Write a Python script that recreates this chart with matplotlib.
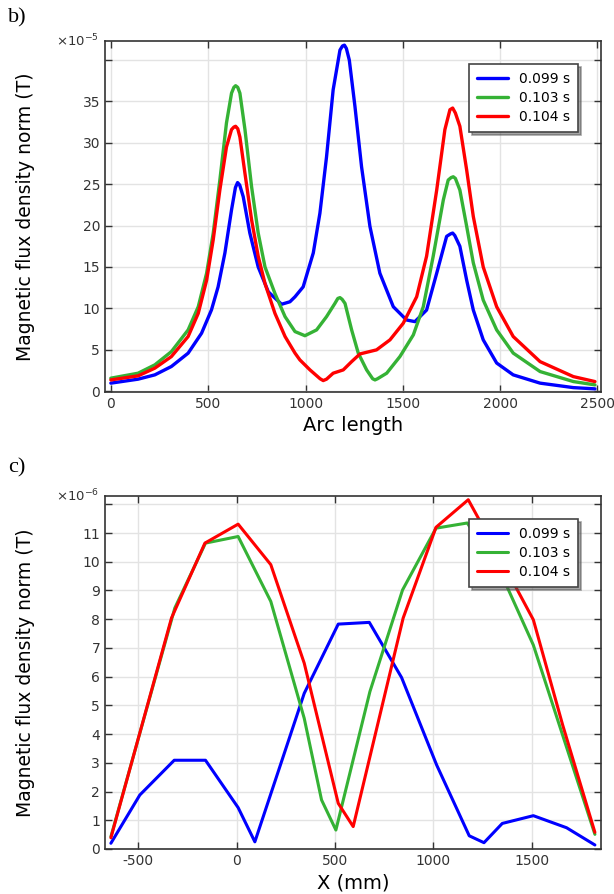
import numpy as np
import matplotlib
matplotlib.use('Agg')
import matplotlib.pyplot as plt

plt.rcParams['axes.unicode_minus'] = False

## ---- panel b: arc length (x1e-5 T) ----
arc_blue_x = [0, 140, 226, 311, 397, 466, 517, 551, 586, 620, 640, 651, 662, 680, 714, 757, 809, 877, 920, 946, 988,
              1040, 1074, 1108, 1142, 1177, 1190, 1200, 1210, 1225, 1254, 1288, 1331, 1382, 1451, 1519, 1562, 1622, 1674,
              1725, 1745, 1756, 1767, 1793, 1828, 1862, 1913, 1982, 2067, 2205, 2376, 2487]
arc_blue_y = [0.97, 1.45, 1.97, 2.98, 4.59, 7.0, 9.82, 12.6, 16.7, 21.9, 24.6, 25.2, 24.9, 23.5, 19.1, 15.0, 12.0, 10.5, 10.8, 11.4, 12.6,
              16.7, 21.5, 28.3, 36.4, 41.2, 41.7, 41.8, 41.4, 40.0, 34.4, 27.1, 19.9, 14.25, 10.2, 8.6, 8.4, 9.8, 14.25,
              18.7, 19.0, 19.1, 18.8, 17.5, 13.4, 9.8, 6.2, 3.4, 1.97, 0.97, 0.43, 0.28]

arc_green_x = [0, 140, 226, 311, 397, 449, 492, 526, 560, 594, 620, 632, 641, 652, 663, 689, 723, 757, 792, 843, 895, 946,
               997, 1057, 1108, 1151, 1166, 1177, 1188, 1203, 1237, 1271, 1314, 1345, 1357, 1370, 1417, 1485, 1554, 1605,
               1656, 1708, 1733, 1748, 1759, 1770, 1793, 1828, 1862, 1913, 1982, 2067, 2205, 2376, 2487]
arc_green_y = [1.57, 2.17, 3.18, 4.78, 7.4, 10.2, 14.25, 19.1, 25.5, 32.4, 36.0, 36.7, 36.9, 36.7, 36.0, 31.6, 24.7, 19.1, 15.0, 11.8, 9.0, 7.2,
               6.7, 7.4, 9.0, 10.6, 11.2, 11.3, 11.1, 10.6, 7.4, 4.6, 2.57, 1.5, 1.36, 1.5, 2.17, 4.18, 6.8, 10.2,
               16.3, 23.1, 25.5, 25.8, 25.9, 25.7, 24.3, 19.9, 15.5, 11.0, 7.4, 4.6, 2.37, 1.16, 0.76]

arc_red_x = [0, 140, 226, 311, 397, 449, 492, 526, 560, 594, 620, 632, 641, 652, 663, 689, 723, 757, 792, 843, 895, 946,
             971, 1023, 1075, 1091, 1108, 1142, 1194, 1237, 1280, 1365, 1434, 1502, 1571, 1622, 1674, 1716, 1742, 1756,
             1770, 1793, 1828, 1862, 1913, 1982, 2067, 2205, 2376, 2487]
arc_red_y = [1.36, 1.85, 2.78, 4.18, 6.6, 9.4, 13.4, 18.3, 24.3, 29.5, 31.6, 31.9, 32.0, 31.7, 30.7, 26.3, 20.7, 16.3, 13.0, 9.4, 6.6, 4.6,
             3.78, 2.57, 1.5, 1.28, 1.45, 2.17, 2.57, 3.57, 4.5, 4.99, 6.2, 8.2, 11.4, 16.3, 24.3, 31.6, 34.0, 34.2,
             33.6, 32.0, 26.7, 21.1, 15.0, 10.2, 6.6, 3.57, 1.76, 1.16]

## ---- panel c: X (mm) (x1e-6 T) ----
x_blue = [-639, -492, -317, -158, 8, 93, 344, 517, 675, 839, 1017, 1183, 1258, 1351, 1509, 1678, 1822]
y_blue = [0.2, 1.88, 3.09, 3.09, 1.44, 0.25, 5.42, 7.83, 7.89, 5.97, 2.93, 0.46, 0.22, 0.89, 1.16, 0.74, 0.14]

x_green = [-639, -314, -158, 8, 174, 344, 432, 505, 678, 844, 1014, 1173, 1351, 1509, 1822]
y_green = [0.43, 8.39, 10.65, 10.88, 8.62, 4.55, 1.71, 0.66, 5.48, 9.02, 11.17, 11.35, 9.5, 7.1, 0.51]

x_red = [-639, -331, -161, 8, 174, 344, 517, 593, 847, 1014, 1178, 1351, 1509, 1658, 1822]
y_red = [0.39, 8.04, 10.65, 11.31, 9.9, 6.47, 1.59, 0.78, 8.04, 11.2, 12.16, 10.0, 7.98, 4.32, 0.58]

labels = ['0.099 s', '0.103 s', '0.104 s']
colors = ['#0000ff', '#35b235', '#ff0000']

fig = plt.figure(figsize=(6.14, 8.94), dpi=100)
ax1 = fig.add_axes([105/614, 1 - 392/894, 496/614, 351/894])
ax2 = fig.add_axes([105/614, 1 - 849/894, 496/614, 353/894])

def style(ax, yticks, exp):
    ax.grid(True, color='#e3e3e3', linewidth=1)
    ax.set_axisbelow(True)
    ax.tick_params(direction='in', top=True, right=True, length=5, width=1,
                   labelsize=10, labelcolor='#333333', color='#333333')
    ax.set_yticks(yticks)
    ax.set_yticklabels([str(t) for t in yticks[:-1]] + [''])
    for s in ax.spines.values():
        s.set_color('#333333')
        s.set_linewidth(1.2)
    ax.text(-0.012, 1.0, exp, transform=ax.transAxes, ha='right', va='center',
            fontsize=9.5, color='#333333')
    ax.set_ylabel('Magnetic flux density norm (T)', fontsize=13.5)
    ax.yaxis.set_label_coords(-0.141, 0.5)
    leg = ax.legend(loc='upper right', bbox_to_anchor=(0.968, 0.955), fontsize=10,
                    fancybox=False, shadow=True, framealpha=1, edgecolor='#444444',
                    handlelength=2.2, borderpad=0.6, labelspacing=0.35)
    leg.get_frame().set_linewidth(1.2)

for xs, ys, c, l in zip([arc_blue_x, arc_green_x, arc_red_x], [arc_blue_y, arc_green_y, arc_red_y], colors, labels):
    ax1.plot(xs, ys, color=c, lw=2.4, label=l, solid_joinstyle='round', solid_capstyle='round')
ax1.set_xlim(-30, 2518)
ax1.set_ylim(-0.1, 42.3)
ax1.set_xticks([0, 500, 1000, 1500, 2000, 2500])
style(ax1, list(range(0, 45, 5)), r'$\times$10$^{-5}$')
ax1.set_xlabel('Arc length', fontsize=14, labelpad=4)

for xs, ys, c, l in zip([x_blue, x_green, x_red], [y_blue, y_green, y_red], colors, labels):
    ax2.plot(xs, ys, color=c, lw=2.2, label=l, solid_joinstyle='round', solid_capstyle='round')
ax2.set_xlim(-669, 1853)
ax2.set_ylim(0, 12.29)
ax2.set_xticks([-500, 0, 500, 1000, 1500])
style(ax2, list(range(0, 13)), r'$\times$10$^{-6}$')
ax2.set_xlabel('X (mm)', fontsize=14, labelpad=4)

fig.text(8/614, 1 - 18/894, 'b)', fontsize=16, family='Liberation Serif', va='center')
fig.text(8/614, 1 - 468/894, 'c)', fontsize=16, family='Liberation Serif', va='center')

fig.savefig('out.png', dpi=100)
